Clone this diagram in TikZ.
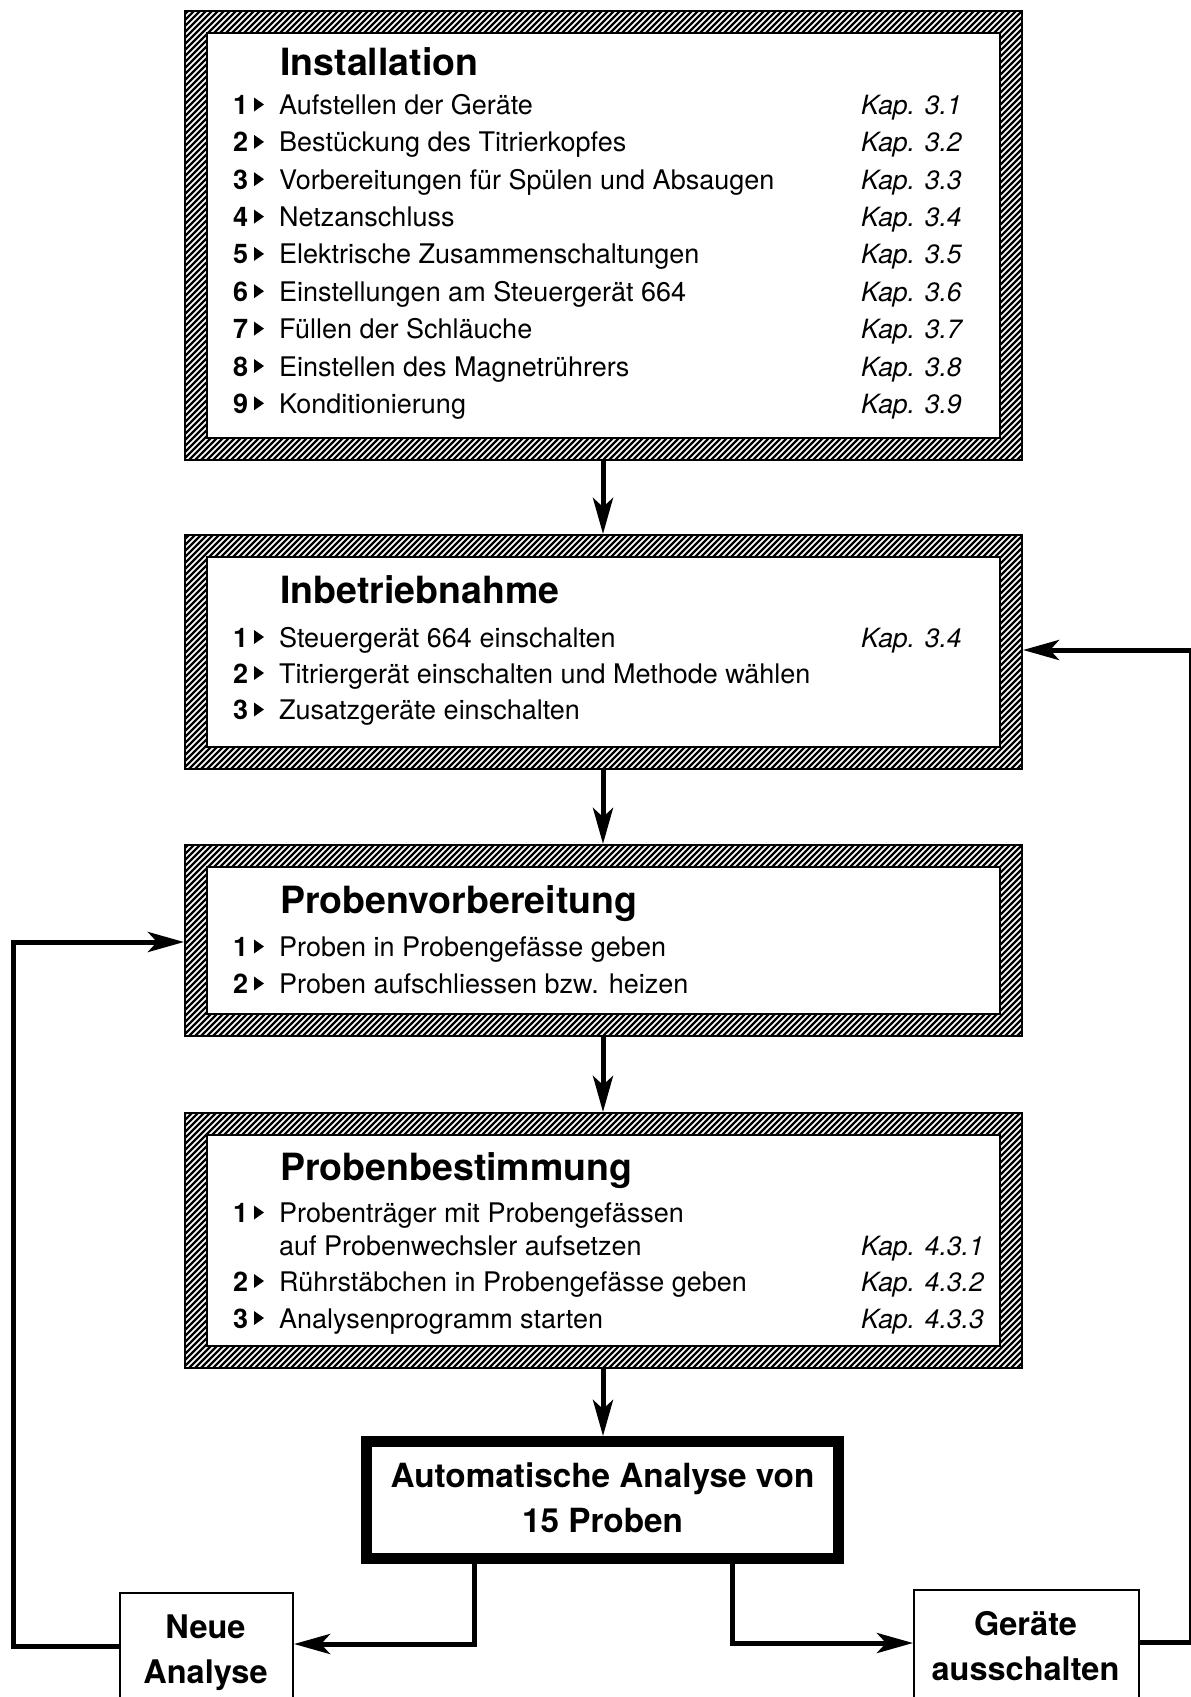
\documentclass[tikz,border=0pt]{standalone}
\usepackage{fontspec}
\setmainfont{TeX Gyre Heros}
\usetikzlibrary{arrows.meta}
\newcommand\myitem[4]{%
  \node[numtxt] (#1n) at (233,#2) {#3};
  \fill (254,{#2-17}) -- (264,{#2-10}) -- (254,{#2-3}) -- cycle;
  \node[itemtxt] (#1t) at (279,#2) {#4};}
\newcommand\mykap[3]{\node[kaptxt] (#1) at (861,#2) {Kap. #3};}
\begin{document}
\begin{tikzpicture}[x=1pt,y=-1pt,
  frame/.style={draw, line width=2pt, anchor=north west, inner sep=0pt,
    path picture={
      \foreach \k in {-462,-456,...,846}
        {\draw[line width=2.4pt] ([xshift=\k pt, yshift=-10pt]path picture bounding box.south west) -- ++(480pt,480pt);}
      \fill[white,draw=black,line width=2pt]
      ([shift={(22pt,-22pt)}]path picture bounding box.north west) rectangle
      ([shift={(-22pt,22pt)}]path picture bounding box.south east);}},
  itemtxt/.style={anchor=base west, inner sep=0pt, font=\fontsize{27}{30}\selectfont},
  numtxt/.style={itemtxt, font=\bfseries\fontsize{27}{30}\selectfont},
  kaptxt/.style={itemtxt, font=\itshape\fontsize{26.5}{30}\selectfont},
  titletxt/.style={anchor=base west, inner sep=0pt, font=\bfseries\fontsize{37.5}{40}\selectfont},
  boldtxt/.style={anchor=base, inner sep=0pt, font=\bfseries\fontsize{32.5}{36}\selectfont},
  autotxt/.style={boldtxt, font=\bfseries\fontsize{33.3}{36}\selectfont},
  thinbox/.style={draw, line width=2pt, anchor=north west, inner sep=0pt},
  arr/.style={line width=5pt, -{Stealth[length=36pt,width=20pt,inset=9pt]}}]
\useasboundingbox (0,0) rectangle (1191,1697);
\fill[white] (0,0) rectangle (1191,1697);

% frames
\node[frame, minimum width=837pt, minimum height=449pt] (b1) at (184,10) {};
\node[frame, minimum width=837pt, minimum height=234pt] (b2) at (184,534) {};
\node[frame, minimum width=837pt, minimum height=191pt] (b3) at (184,844) {};
\node[frame, minimum width=837pt, minimum height=255pt] (b4) at (184,1112) {};
\node[draw, line width=11pt, inner sep=0pt, minimum width=472pt, minimum height=117pt] (auto) at (602.5,1500) {};
\node[thinbox, minimum width=173pt, minimum height=130pt] (neue) at (119,1592) {};
\node[thinbox, minimum width=225pt, minimum height=130pt] (geraete) at (913,1589) {};

% Installation
\node[titletxt] (t1) at (280,75) {Installation};
\myitem{i1}{114.5}{1}{Aufstellen der Geräte}
\myitem{i2}{151.9}{2}{Bestückung des Titrierkopfes}
\myitem{i3}{189.2}{3}{Vorbereitungen für Spülen und Absaugen}
\myitem{i4}{226.6}{4}{Netzanschluss}
\myitem{i5}{263.9}{5}{Elektrische Zusammenschaltungen}
\myitem{i6}{301.2}{6}{Einstellungen am Steuergerät 664}
\myitem{i7}{338.6}{7}{Füllen der Schläuche}
\myitem{i8}{376}{8}{Einstellen des Magnetrührers}
\myitem{i9}{413.3}{9}{Konditionierung}
\mykap{k1}{114.5}{3.1}
\mykap{k2}{151.9}{3.2}
\mykap{k3}{189.2}{3.3}
\mykap{k4}{226.6}{3.4}
\mykap{k5}{263.9}{3.5}
\mykap{k6}{301.2}{3.6}
\mykap{k7}{338.6}{3.7}
\mykap{k8}{376}{3.8}
\mykap{k9}{413.3}{3.9}

% Inbetriebnahme
\node[titletxt] (t2) at (280,603) {Inbetriebnahme};
\myitem{j1}{647}{1}{Steuergerät 664 einschalten}
\myitem{j2}{683}{2}{Titriergerät einschalten und Methode wählen}
\myitem{j3}{719.5}{3}{Zusatzgeräte einschalten}
\mykap{kj1}{647}{3.4}

% Probenvorbereitung
\node[titletxt] (t3) at (280,913) {Probenvorbereitung};
\myitem{p1}{956.5}{1}{Proben in Probengefässe geben}
\myitem{p2}{993.5}{2}{Proben aufschliessen bzw. heizen}

% Probenbestimmung
\node[titletxt] (t4) at (280,1180) {Probenbestimmung};
\myitem{q1}{1222.5}{1}{Probenträger mit Probengefässen}
\node[itemtxt] (q1b) at (279,1255) {auf Probenwechsler aufsetzen};
\myitem{q2}{1291}{2}{Rührstäbchen in Probengefässe geben}
\myitem{q3}{1328}{3}{Analysenprogramm starten}
\mykap{kq1}{1255}{4.3.1}
\mykap{kq2}{1291}{4.3.2}
\mykap{kq3}{1328}{4.3.3}

% bottom texts
\node[autotxt] (a1) at (602.5,1487) {Automatische Analyse von};
\node[autotxt] (a2) at (602.5,1532) {15 Proben};
\node[boldtxt] (n1) at (205.5,1638) {Neue};
\node[boldtxt] (n2) at (205.5,1683) {Analyse};
\node[boldtxt] (g1) at (1025.5,1635) {Geräte};
\node[boldtxt] (g2) at (1025.5,1680) {ausschalten};

% connectors
\draw[arr] (b1.south -| 603,0) -- (b2.north -| 603,0);
\draw[arr] (b2.south -| 603,0) -- (b3.north -| 603,0);
\draw[arr] (b3.south -| 603,0) -- (b4.north -| 603,0);
\draw[arr] (b4.south -| 603,0) -- (auto.north -| 603,0);

\coordinate (la) at (474,1644);
\coordinate (ra) at (732,1643);
\draw[arr] (auto.south -| la) -- (la) -- (la -| neue.east);
\draw[arr] (auto.south -| ra) -- (ra) -- (ra -| geraete.west);

\coordinate (lb) at (13,1646);
\coordinate (lt) at (13,942);
\draw[arr] (lb -| neue.west) -- (lb) -- (lt) -- (lt -| b3.west);

\coordinate (rb) at (1191.5,1642);
\coordinate (rt) at (1191.5,650);
\draw[arr] (rb -| geraete.east) -- (rb) -- (rt) -- (rt -| b2.east);
\end{tikzpicture}
\end{document}
